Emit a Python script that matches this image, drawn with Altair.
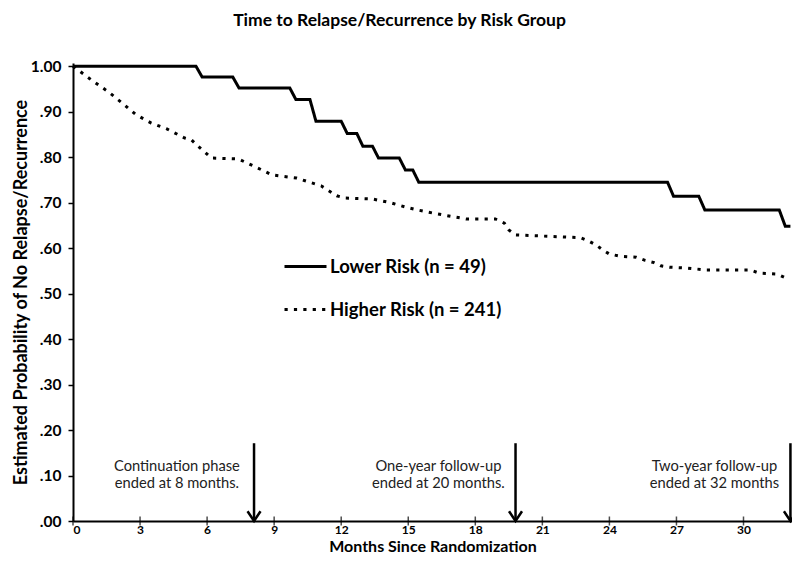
import altair as alt
import pandas as pd

LOWER = "Lower Risk (n = 49)"
HIGHER = "Higher Risk (n = 241)"

# Lower risk Kaplan-Meier curve vertices (months, survival)
lower_months = [0, 5.5, 5.78, 7.15, 7.43, 9.7, 9.97, 10.6, 10.87, 12.0, 12.27, 12.7,
                12.97, 13.4, 13.67, 14.6, 14.87, 15.2, 15.47, 26.6, 26.87, 28.0,
                28.27, 31.6, 31.87, 32.1]
lower_surv = [1.0, 1.0, 0.976, 0.976, 0.952, 0.952, 0.927, 0.927, 0.879, 0.879,
              0.852, 0.852, 0.824, 0.824, 0.798, 0.798, 0.772, 0.772, 0.745, 0.745,
              0.714, 0.714, 0.684, 0.684, 0.648, 0.648]

# Higher risk curve vertices (months, survival)
higher_months = [0, 0.9, 1.6, 2.2, 2.8, 3.5, 4.2, 5.0, 5.3, 5.6, 6.2, 7.4, 8.1, 8.9,
                 10.0, 11.1, 11.8, 12.2, 13.4, 14.2, 14.9, 15.4, 16.1, 16.9, 17.6,
                 18.9, 19.3, 19.5, 19.8, 22.7, 23.1, 23.4, 23.7, 24.0, 24.5, 25.2,
                 25.6, 26.0, 26.3, 26.7, 27.5, 28.3, 30.3, 30.7, 31.5, 31.9, 32.05]
higher_surv = [1.0, 0.967, 0.943, 0.919, 0.894, 0.875, 0.862, 0.842, 0.838, 0.824,
               0.798, 0.796, 0.780, 0.761, 0.754, 0.737, 0.715, 0.710, 0.708, 0.700,
               0.690, 0.684, 0.677, 0.670, 0.664, 0.664, 0.655, 0.640, 0.629, 0.623,
               0.615, 0.607, 0.596, 0.587, 0.582, 0.580, 0.573, 0.568, 0.561, 0.558,
               0.556, 0.552, 0.552, 0.545, 0.543, 0.534, 0.532]

x_ticks = [0, 3, 6, 9, 12, 15, 18, 21, 24, 27, 30]
y_ticks = [0.0, 0.1, 0.2, 0.3, 0.4, 0.5, 0.6, 0.7, 0.8, 0.9, 1.0]

note_lines = [["Continuation phase", "ended at 8 months."],
              ["One-year follow-up", "ended at 20 months."],
              ["Two-year follow-up", "ended at 32 months"]]
note_x = [4.65, 16.35, 28.7]
note_y = [0.119, 0.119, 0.119]
arrow_x = [8.1, 19.8, 32.1]
arrow_top = [0.171, 0.171, 0.171]

FONT = "Lato"

curves = pd.DataFrame({
    "month": lower_months + higher_months,
    "surv": lower_surv + higher_surv,
    "group": [LOWER] * len(lower_months) + [HIGHER] * len(higher_months),
    "idx": list(range(len(lower_months))) + list(range(len(higher_months))),
})
ticks_df = pd.DataFrame({"month": x_ticks, "surv": [0.0] * len(x_ticks)})
notes_df = pd.DataFrame({"month": note_x, "surv": note_y, "text": note_lines})
arrows_df = pd.DataFrame({"month": arrow_x, "top": arrow_top, "bottom": [0.0] * 3})

xscale = alt.Scale(domain=[0, 32.17], nice=False, zero=False)
yscale = alt.Scale(domain=[0, 1.007], nice=False)

xaxis = alt.Axis(values=x_ticks, ticks=False, labelFont=FONT, labelFontSize=12,
                 labelFontWeight="bold", labelColor="black", labelPadding=3,
                 title="Months Since Randomization", titleFont=FONT, titleFontSize=16,
                 titleFontWeight="bold", titleColor="black", titlePadding=3,
                 domainColor="black", domainWidth=2, grid=False)
yaxis = alt.Axis(values=y_ticks,
                 labelExpr="replace(format(datum.value, '.2f'), '0.', '.')",
                 tickSize=5, tickWidth=1.5, tickColor="black",
                 labelFont=FONT, labelFontSize=15.5, labelFontWeight="bold",
                 labelColor="black", labelPadding=7,
                 title="Estimated Probability of No Relapse/Recurrence",
                 titleFont=FONT, titleFontSize=18, titleFontWeight="bold",
                 titleColor="black", titlePadding=0,
                 domainColor="black", domainWidth=2, grid=False)

lines = alt.Chart(curves).mark_line(color="black", strokeWidth=3).encode(
    x=alt.X("month:Q", scale=xscale, axis=xaxis),
    y=alt.Y("surv:Q", scale=yscale, axis=yaxis),
    strokeDash=alt.StrokeDash(
        "group:N",
        scale=alt.Scale(domain=[LOWER, HIGHER], range=[[1, 0], [3.2, 6.2]]),
        legend=alt.Legend(title=None, orient="none", legendX=210, legendY=181,
                          symbolType="stroke", symbolSize=1764,
                          symbolStrokeWidth=3, symbolStrokeColor="black",
                          labelFont=FONT, labelFontSize=18.5, labelFontWeight="bold",
                          labelColor="black", labelOffset=2, rowPadding=11,
                          labelLimit=300, padding=0),
    ),
    detail="group:N",
    order="idx:Q",
)

xticks = alt.Chart(ticks_df).mark_tick(orient="vertical", size=9, thickness=1.5,
                                       color="black").encode(
    x=alt.X("month:Q", scale=xscale),
    y=alt.Y("surv:Q", scale=yscale),
)

notes = alt.Chart(notes_df).mark_text(font=FONT, fontSize=14.7, lineHeight=17.5,
                                      color="#222222", baseline="middle",
                                      align="center").encode(
    x=alt.X("month:Q", scale=xscale),
    y=alt.Y("surv:Q", scale=yscale),
    text="text",
)

arrow_shafts = alt.Chart(arrows_df).mark_rule(color="black", strokeWidth=2.5).encode(
    x=alt.X("month:Q", scale=xscale),
    y=alt.Y("top:Q", scale=yscale),
    y2="bottom:Q",
)
arrow_heads = alt.Chart(arrows_df).mark_point(
    shape="M-1,-1.5L0,0L1,-1.5", filled=False, size=169, strokeWidth=2.5,
    color="black", opacity=1).encode(
    x=alt.X("month:Q", scale=xscale),
    y=alt.Y("bottom:Q", scale=yscale),
)

chart = alt.layer(lines, xticks, arrow_shafts, arrow_heads, notes).properties(
    width=719, height=458,
    autosize=alt.AutoSizeParams(type="none"),
    padding={"left": 65, "top": 55, "right": 0, "bottom": 40},
    background="white",
    title=alt.TitleParams("Time to Relapse/Recurrence by Risk Group", font=FONT,
                          fontSize=17.5, fontWeight="bold", color="black",
                          anchor="middle", offset=30, dx=-33),
).configure_view(stroke=None)

chart.save("out.html", embed_options={"renderer": "svg", "actions": False})
